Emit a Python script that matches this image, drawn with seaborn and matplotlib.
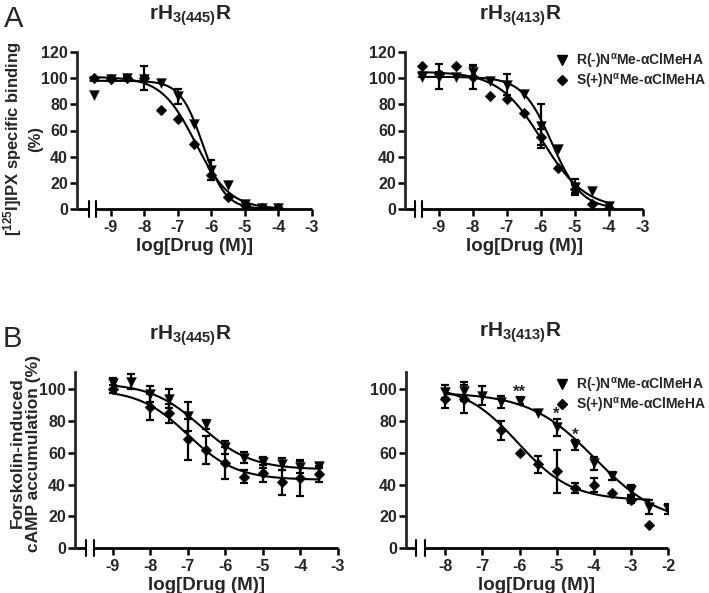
import numpy as np
import pandas as pd
import matplotlib
matplotlib.use("Agg")
import matplotlib.pyplot as plt
import seaborn as sns
from matplotlib.lines import Line2D

# ---------------- data ----------------
# Panel A, rH3(445)R  - [125I]IPX specific binding (%)
logA = [-9.5, -9, -8.5, -8, -7.5, -7, -6.5, -6, -5.5, -5, -4.5, -4]
A445_R = [87.5, 99, 100, 99, 96, 86, 65, 30, 18, 4, 0.5, 1]
A445_R_err = [0, 0, 1.5, 0, 0, 6, 0, 7.5, 0, 1.5, 0, 0]
A445_S = [100, 99.5, 100, 100, 76, 69, 50, 26, 9, 3, 0.5, 0.5]
A445_S_err = [0, 0, 0, 9, 0, 0, 0, 0, 0, 0, 0, 0]

# Panel A, rH3(413)R
A413_R = [101, 101, 101, 105, 98, 95, 88, 63.5, 46, 17, 14, 2.5]
A413_R_err = [0, 9.5, 0, 4, 0, 8, 0, 17, 0, 6, 0, 0]
A413_S = [109, 103, 109, 101, 86, 84, 73.5, 55, 31, 15, 4, 0.5]
A413_S_err = [0, 2, 0, 9, 0, 0, 0, 6, 0, 3, 0, 0]

# Panel B, rH3(445)R - forskolin-induced cAMP accumulation (%)
logB445 = [-9, -8.5, -8, -7.5, -7, -6.5, -6, -5.5, -5, -4.5, -4, -3.5]
B445_R = [104, 105, 97, 94, 83, 78, 63.5, 57, 54, 53, 51, 52]
B445_R_err = [3.5, 4.5, 5, 6, 9, 3, 4, 3.5, 3.5, 4, 4, 1.5]
B445_S = [100, np.nan, 89, 85, 68.5, 61.8, 53.5, 45, 47, 41.5, 44, 46.5]
B445_S_err = [2.5, 0, 8, 6, 13, 9, 10, 4, 5.5, 8, 11.5, 5]

# Panel B, rH3(413)R
logB413 = [-8, -7.5, -7, -6.5, -6, -5.5, -5, -4.5, -4, -3.5, -3, -2.5, -2]
B413_R = [98.5, 99, 96, 92, 93, 85, 76, 65, 53.5, 45.5, 36.7, 25.8, 24.5]
B413_R_err = [4, 6, 6, 4, 2, 0, 5.5, 3, 4, 2.5, 3, 4.5, 3]
B413_S = [94, 94, np.nan, 74.4, 60, 52.8, 48.5, 37.7, 39.8, 35, 30.4, 14.3, np.nan]
B413_S_err = [6, 9, 0, 6, 0, 5.5, 13.5, 3, 4.5, 0, 2, 0, 0]
B413_stars = {-6: "**", -5: "*", -4.5: "*"}

# Fitted sigmoid parameters (top, bottom, logIC50, hill, x-start, x-end)
fit_A445_R = (98, 0, -6.25, 1.3, -9.6, -4)
fit_A445_S = (101, 0, -6.47, 0.85, -9.6, -4)
fit_A413_R = (101, 0, -5.68, 1.0, -9.6, -4)
fit_A413_S = (105, 0, -5.97, 0.68, -9.6, -4)
fit_B445_R = (104, 49.5, -6.65, 0.65, -9, -3.5)
fit_B445_S = (100, 43, -7.0, 0.67, -9, -3.5)
fit_B413_R = (98, 15, -3.97, 0.49, -8, -2)
fit_B413_S = (103, 30, -6.05, 0.6, -8, -2.5)

label_R = r"R(-)N$^{\alpha}$Me-$\alpha$ClMeHA"
label_S = r"S(+)N$^{\alpha}$Me-$\alpha$ClMeHA"

# ---------------- style ----------------
sns.set_style("ticks")
plt.rcParams["font.family"] = ["Liberation Sans", "DejaVu Sans"]
plt.rcParams["font.weight"] = "bold"
plt.rcParams["mathtext.fontset"] = "custom"
plt.rcParams["mathtext.rm"] = "Liberation Sans:bold"
plt.rcParams["mathtext.bf"] = "Liberation Sans:bold"
plt.rcParams["mathtext.it"] = "DejaVu Serif:italic"
plt.rcParams["mathtext.default"] = "rm"

W, H = 709, 593
fig = plt.figure(figsize=(W / 100, H / 100), dpi=100)


def px_axes(l, r, t, b):
    return fig.add_axes([l / W, 1 - b / H, (r - l) / W, (b - t) / H])


def logistic(x, top, bottom, logic50, hill):
    return bottom + (top - bottom) / (1 + 10 ** ((x - logic50) * hill))


def draw_series(ax, x, y, err, fit, marker, ms):
    df = pd.DataFrame({"x": x, "y": y, "err": err}).dropna()
    top, bottom, ic, hill, x0, x1 = fit
    xs = np.linspace(x0, x1, 300)
    cdf = pd.DataFrame({"x": xs, "y": logistic(xs, top, bottom, ic, hill)})
    sns.lineplot(data=cdf, x="x", y="y", ax=ax, color="black", lw=1.5)
    e = df[df["err"] > 0]
    ax.errorbar(e["x"], e["y"], yerr=e["err"], fmt="none", ecolor="black",
                elinewidth=1.6, capsize=2.8, capthick=1.6, zorder=3)
    sns.scatterplot(data=df, x="x", y="y", ax=ax, marker=marker, s=ms,
                    color="black", edgecolor="black", linewidth=0.3, zorder=4)


def style_axes(ax, xlim, ylim, xticks, yticks, breaks):
    ax.set_xlim(*xlim)
    ax.set_ylim(*ylim)
    ax.set_xticks(xticks)
    ax.set_yticks(yticks)
    ax.set_xticklabels([f"{t:g}" for t in xticks], fontsize=11.5, fontweight="bold")
    ax.set_yticklabels([f"{t:g}" for t in yticks], fontsize=11.5, fontweight="bold")
    for s in ["top", "right", "bottom"]:
        ax.spines[s].set_visible(False)
    ax.spines["left"].set_linewidth(2)
    ax.spines["left"].set_bounds(ylim[0], ylim[1])
    ax.tick_params(axis="both", direction="out", length=5, width=1.8,
                   color="black")
    ax.tick_params(axis="y", pad=1.5)
    ax.tick_params(axis="x", pad=3)
    tr = ax.get_xaxis_transform()
    b1, b2 = breaks
    ax.plot([xlim[0], b1], [0, 0], transform=tr, color="black", lw=2,
            clip_on=False, solid_capstyle="butt")
    ax.plot([b2, xlim[1]], [0, 0], transform=tr, color="black", lw=2,
            clip_on=False, solid_capstyle="butt")
    hh = 8 / (ax.get_position().height * H)
    for b in breaks:
        ax.plot([b, b], [-hh, hh], transform=tr, color="black", lw=1.5,
                clip_on=False)
    ax.set_xlabel("log[Drug (M)]", fontsize=13.5, fontweight="bold", labelpad=2)
    ax.set_ylabel("")


# ---------------- Panel A left ----------------
ax1 = px_axes(77, 312, 52, 209)
draw_series(ax1, logA, A445_R, A445_R_err, fit_A445_R, "v", 50)
draw_series(ax1, logA, A445_S, A445_S_err, fit_A445_S, "D", 30)
style_axes(ax1, (-10, -3), (0, 120), list(range(-9, -2)), list(range(0, 121, 20)),
           (-9.65, -9.42))
fig.text(22 / W, 1 - 139 / H, "[$^{125}$I]IPX specific binding\n(%)",
         rotation=90, ha="center", va="center", multialignment="center",
         fontsize=12, fontweight="bold", linespacing=1.3)

# ---------------- Panel A right ----------------
ax2 = px_axes(405, 643, 52, 209)
draw_series(ax2, logA, A413_R, A413_R_err, fit_A413_R, "v", 50)
draw_series(ax2, logA, A413_S, A413_S_err, fit_A413_S, "D", 30)
style_axes(ax2, (-10, -3), (0, 120), list(range(-9, -2)), list(range(0, 121, 20)),
           (-9.72, -9.5))

# ---------------- Panel B left ----------------
ax3 = px_axes(75, 338, 372, 548)
draw_series(ax3, logB445, B445_R, B445_R_err, fit_B445_R, "v", 50)
draw_series(ax3, logB445, B445_S, B445_S_err, fit_B445_S, "D", 30)
style_axes(ax3, (-10, -3), (0, 111), list(range(-9, -2)), list(range(0, 101, 20)),
           (-9.71, -9.5))
fig.text(25 / W, 1 - 453 / H, "Forskolin-induced\ncAMP accumulation (%)",
         rotation=90, ha="center", va="center", multialignment="center",
         fontsize=12.5, fontweight="bold", linespacing=1.1)

# ---------------- Panel B right ----------------
ax4 = px_axes(406, 668, 372, 548)
draw_series(ax4, logB413, B413_R, B413_R_err, fit_B413_R, "v", 50)
draw_series(ax4, logB413, B413_S, B413_S_err, fit_B413_S, "D", 30)
style_axes(ax4, (-9.06, -2), (0, 111), list(range(-8, -1)), list(range(0, 101, 20)),
           (-8.79, -8.56))
for xv, st in B413_stars.items():
    i = logB413.index(xv)
    ax4.text(xv, B413_R[i] + B413_R_err[i] + 0.3, st, ha="center", va="baseline",
             fontsize=12, fontweight="bold")

# legends (positioned in figure pixels)
handles = [Line2D([], [], ls="none", marker="v", color="black", ms=7),
           Line2D([], [], ls="none", marker="D", color="black", ms=5)]
for ax, ytop in ((ax2, 46), (ax4, 370)):
    ax.legend(handles, [label_R, label_S], loc="upper left",
              bbox_to_anchor=(548 / W, 1 - ytop / H), bbox_transform=fig.transFigure,
              frameon=False, handletextpad=0.4, labelspacing=0.08,
              borderaxespad=0, handlelength=1.2,
              prop={"weight": "bold", "size": 10})

# titles
for xt, yt, sub in [(190, 20, "3(445)"), (520, 20, "3(413)"),
                    (190, 340, "3(445)"), (520, 337, "3(413)")]:
    fig.text(xt / W, 1 - yt / H, r"rH$_{\mathbf{" + sub + r"}}$R",
             ha="center", va="baseline", fontsize=15, fontweight="bold")

# panel letters
fig.text(4 / W, 1 - 27 / H, "A", fontsize=21, fontweight="normal", va="baseline")
fig.text(3 / W, 1 - 347 / H, "B", fontsize=21, fontweight="normal", va="baseline")

fig.savefig("out.png", dpi=100)
